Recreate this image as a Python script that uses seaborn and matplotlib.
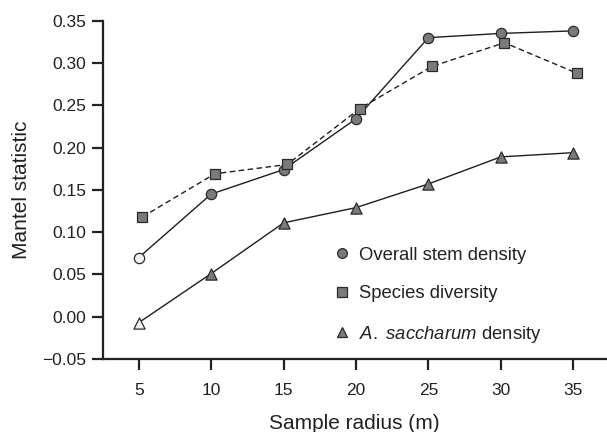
import seaborn as sns
import matplotlib.pyplot as plt
from matplotlib.lines import Line2D
import numpy as np

# data
radius = [5, 10, 15, 20, 25, 30, 35]
stem_density = [0.070, 0.145, 0.174, 0.234, 0.330, 0.335, 0.338]
species_div = [0.118, 0.169, 0.180, 0.246, 0.296, 0.324, 0.288]
acer_density = [-0.007, 0.051, 0.111, 0.129, 0.157, 0.189, 0.194]
labels = ['Overall stem density', 'Species diversity', r'$\mathit{A.\ saccharum}$ density']

sns.set_style('ticks')
plt.rcParams['font.family'] = ['Liberation Sans', 'DejaVu Sans']
plt.rcParams['mathtext.fontset'] = 'custom'
plt.rcParams['mathtext.it'] = 'Liberation Sans:italic'
plt.rcParams['mathtext.rm'] = 'Liberation Sans'

fill = '#7a7a7a'
blank = '#f0f0f0'
edge = '#2a2a2a'
line = '#1e1e1e'
dodge = 0.25  # squares sit slightly right of the others

fig = plt.figure(figsize=(6.07, 4.32), dpi=100)
ax = fig.add_axes([0.169, 0.169, 0.829, 0.783])

# x, y, marker, linestyle, size, hollow first point
series = [
    (np.array(radius, float), stem_density, 'o', '-', 55, True),
    (np.array(radius, float) + dodge, species_div, 's', (0, (4, 2.5)), 62, False),
    (np.array(radius, float), acer_density, '^', '-', 65, True),
]

for x, y, mk, ls, size, hollow in series:
    sns.lineplot(x=x, y=y, ax=ax, color=line, lw=1.0, linestyle=ls, zorder=2)
    k = 1 if hollow else 0
    if hollow:
        sns.scatterplot(x=x[:1], y=y[:1], ax=ax, marker=mk, s=size, color=blank,
                        edgecolor=edge, linewidth=0.9, zorder=3)
    sns.scatterplot(x=x[k:], y=y[k:], ax=ax, marker=mk, s=size, color=fill,
                    edgecolor=edge, linewidth=0.9, zorder=3)

ax.set_xlim(2.5, 37.25)
ax.set_ylim(-0.05, 0.35)
ax.set_xticks(radius)
ax.set_yticks(np.round(np.arange(-0.05, 0.351, 0.05), 2))
ax.set_yticklabels(['\u22120.05' if v < 0 else f'{v:.2f}' for v in ax.get_yticks()])

for s in ['top', 'right']:
    ax.spines[s].set_visible(False)
for s in ['left', 'bottom']:
    ax.spines[s].set_linewidth(1.6)
    ax.spines[s].set_color('#222222')
ax.tick_params(axis='both', direction='out', length=8, width=1.6, color='#222222',
               labelsize=12.5, labelcolor='#222222')
ax.tick_params(axis='x', pad=9)
ax.tick_params(axis='y', pad=4)

ax.set_xlabel('Sample radius (m)', fontsize=15, color='#222222', labelpad=12)
ax.set_ylabel('Mantel statistic', fontsize=15, color='#222222', labelpad=8)

handles = [Line2D([], [], linestyle='none', marker=m, markersize=ms, markerfacecolor=fill,
                  markeredgecolor=edge, markeredgewidth=0.9)
           for m, ms in [('o', 7), ('s', 7), ('^', 7.5)]]
leg = ax.legend(handles, labels, loc='upper left', bbox_to_anchor=(0.457, 0.332),
                frameon=False, fontsize=13.3, handlelength=1.0, handletextpad=0.45,
                labelspacing=1.17, borderaxespad=0, borderpad=0)
for t in leg.get_texts():
    t.set_color('#222222')

fig.savefig('out.png', dpi=100)
